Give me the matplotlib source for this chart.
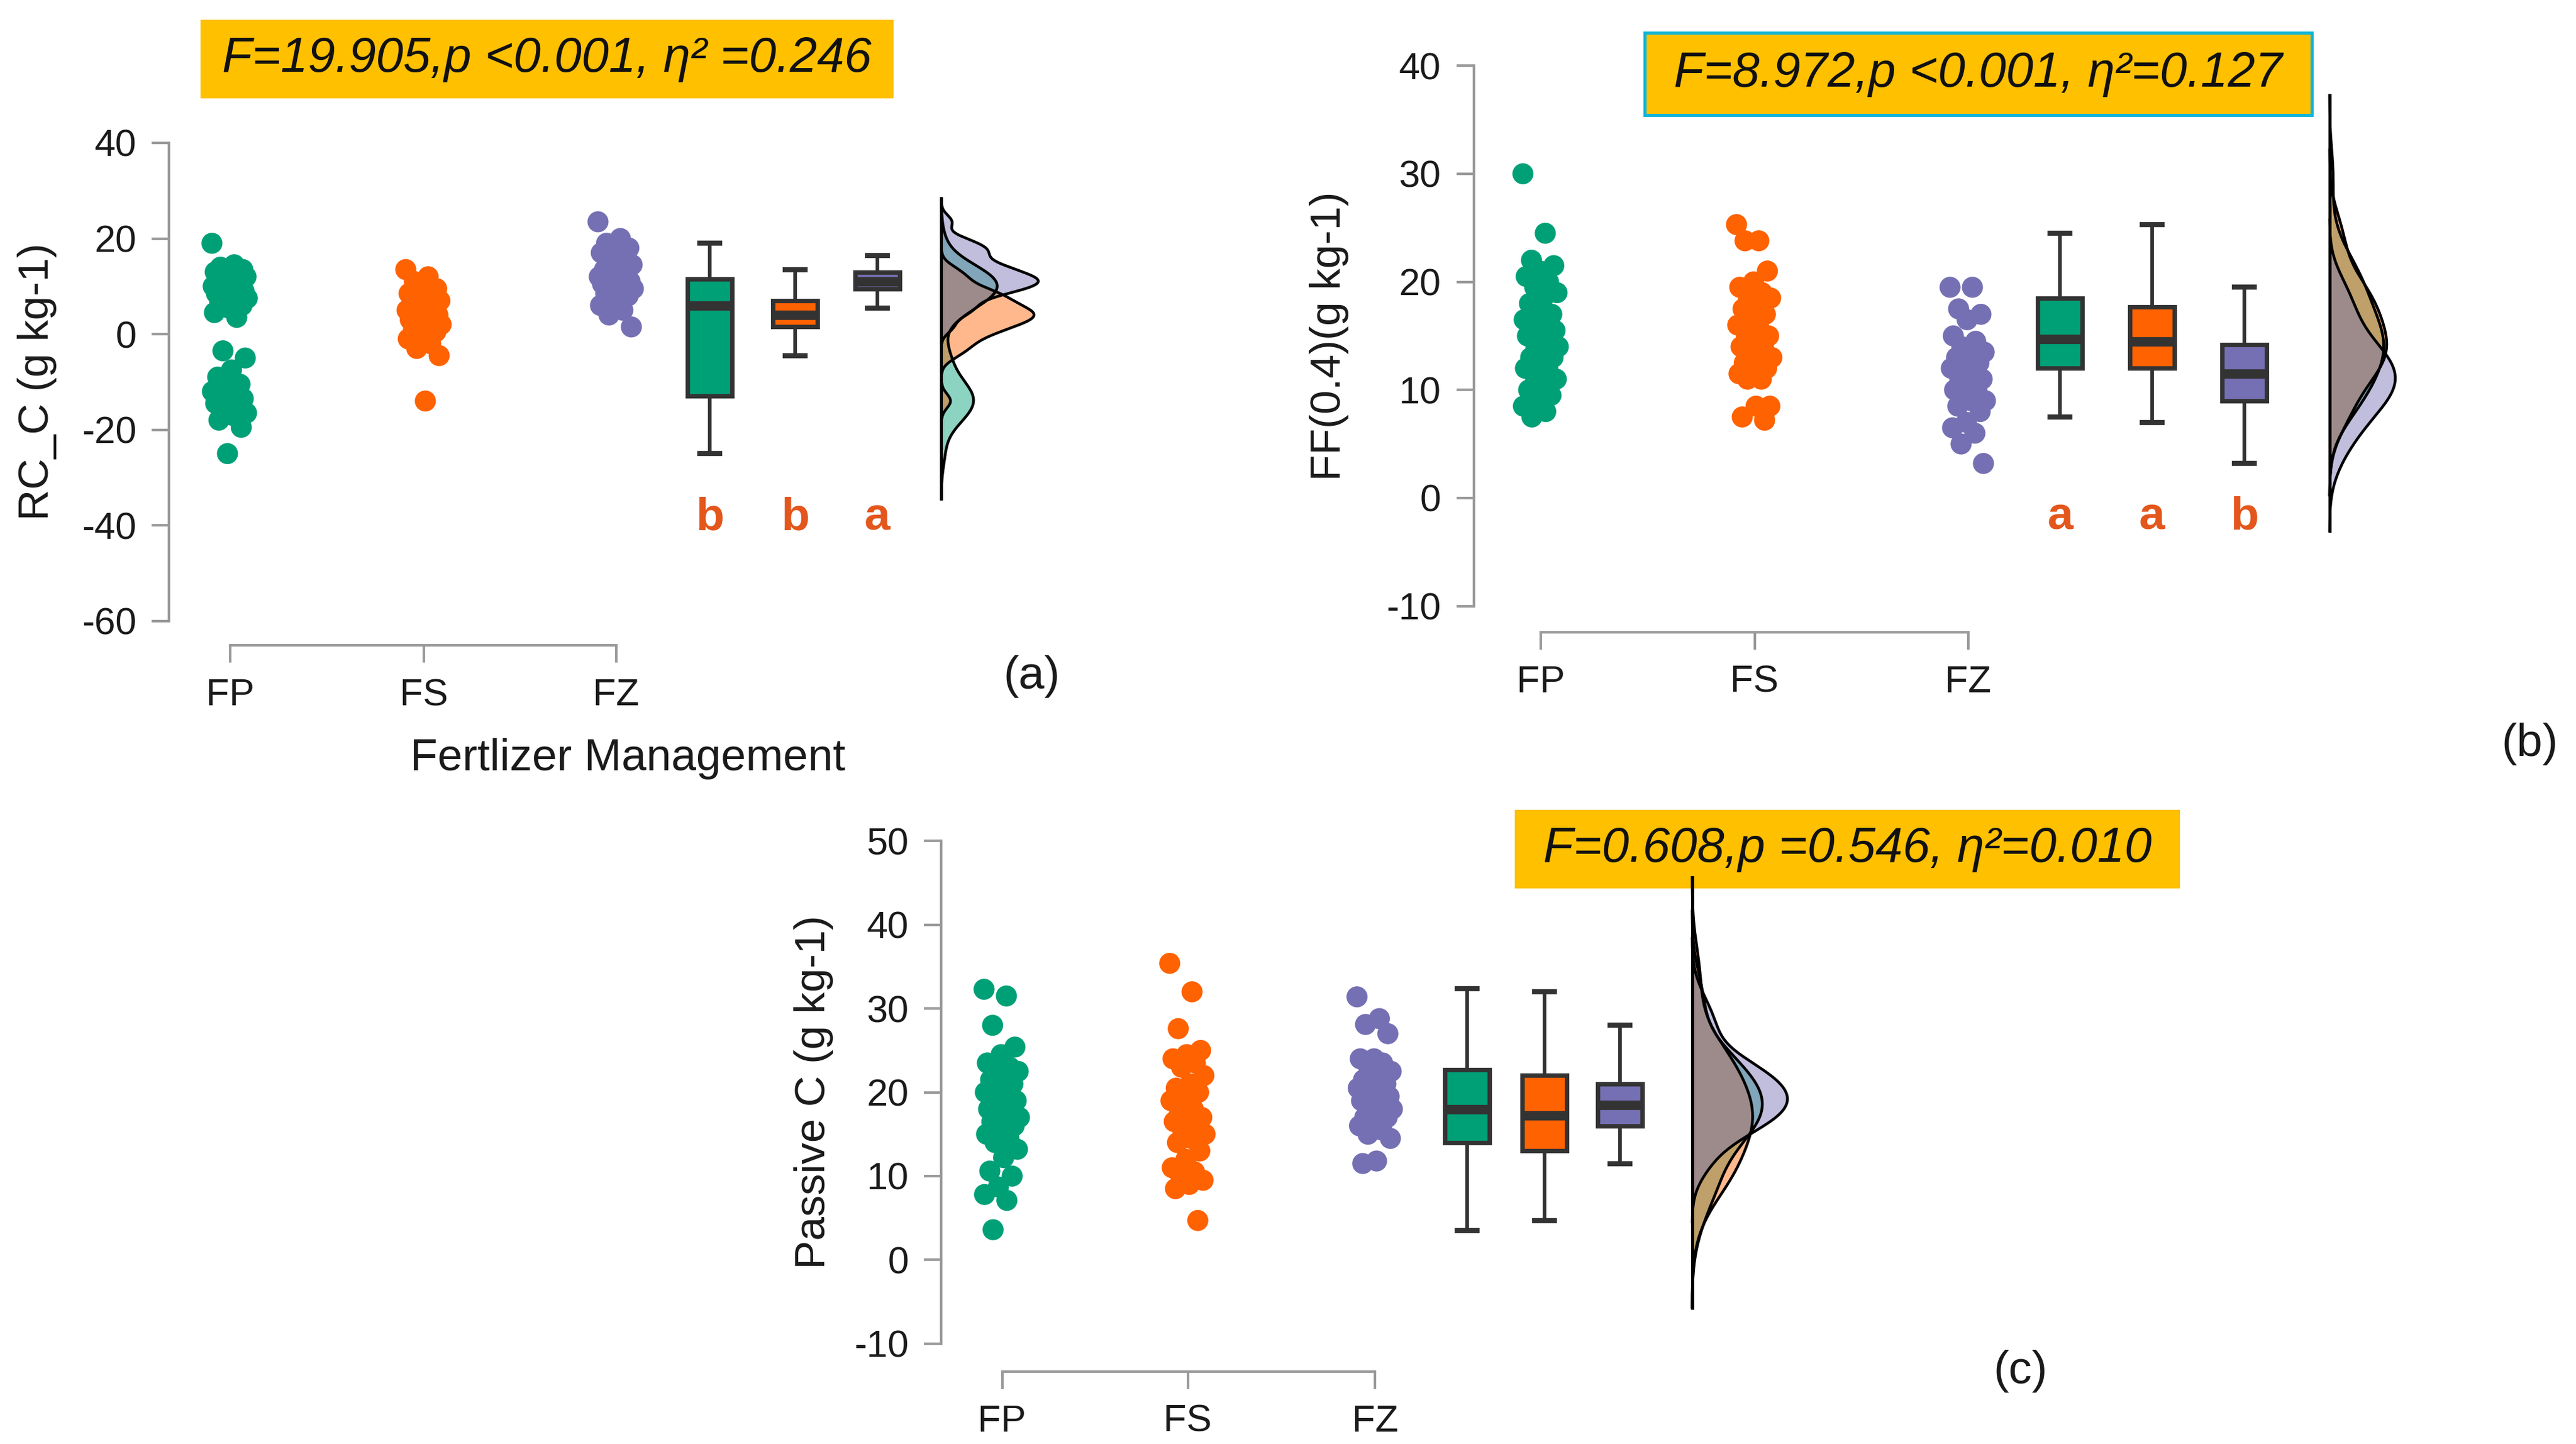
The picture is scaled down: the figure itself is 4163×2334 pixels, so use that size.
"""Raincloud-style panels (a)-(c): jittered points, box plots and densities per fertilizer group."""
import matplotlib

matplotlib.use("Agg")
import matplotlib.pyplot as plt  # noqa: E402
import numpy as np  # noqa: E402
from matplotlib.patches import Rectangle  # noqa: E402

plt.rcParams["font.family"] = ["Liberation Sans", "DejaVu Sans"]

GROUPS = ["FP", "FS", "FZ"]
COLORS = ["#00A077", "#FF6200", "#7570B3"]
LETTER_COLOR = "#E3561C"

# ---- (a) RC_C (g kg-1)
RC_FP = [19.0, 14.5, 14, 13.5, 13, 13, 12.5, 12, 12, 11.5, 11, 11, 10.5, 10, 10, 9.5, 9, 9,
         8.5, 8.5, 8, 7.5, 7, 6.5, 6, 5.5, 4.5, 3.5, -3.5, -5, -7.5, -9, -10.5, -11.5, -12,
         -12.5, -13, -13.5, -14, -14.5, -15, -16, -16.5, -17, -18, -19.5, -25]
RC_FS = [13.5, 12, 11, 9.5, 9, 8.5, 8, 7.5, 7, 6.5, 6, 5.5, 5, 5, 4.5, 4, 4, 3.5, 3, 3, 2.5,
         2, 1.5, 1, 0.5, 0, -1, -2, -3, -4.5, -14]
RC_FZ = [23.5, 20, 19, 18, 17.5, 17, 16, 15, 14.5, 14, 13.5, 13, 12.5, 12, 12, 11.5, 11, 11,
         10.5, 10, 10, 9.5, 9, 8.5, 8, 7, 6, 5, 4, 1.5]
# whislo, q1, med, q3, whishi
RC_BOX = [[-25, -13, 6, 11.5, 19], [-4.5, 1.5, 4, 7, 13.5], [5.5, 9.5, 11, 13, 16.5]]
RC_LETTERS = ["b", "b", "a"]
RC_STATS = "F=19.905,p <0.001, η² =0.246"

# ---- (b) FF(0.4) (g kg-1)
FF_FP = [30, 24.5, 22, 21.5, 21, 20.5, 20, 19.5, 19, 18.5, 18, 17, 17, 16.5, 16, 15.5, 15.5,
         15, 15, 14.5, 14, 14, 13.5, 13, 13, 12.5, 12, 12, 11.5, 11, 10.5, 10, 9.5, 9, 8.5,
         8, 7.5]
FF_FS = [25.3, 23.8, 23.8, 21, 20, 19.5, 19, 18.5, 18.5, 18, 17.5, 17, 16.5, 16, 15.5, 15, 15,
         14.5, 14, 14, 13.5, 13, 13, 12.5, 12, 12, 11.5, 11, 11, 8.5, 8.5, 7.5, 7.2]
FF_FZ = [19.5, 19.5, 17.5, 17, 16.5, 15, 14.5, 14, 13.5, 13, 13, 12.5, 12, 12, 11.5, 11, 11,
         10.5, 10, 10, 9.5, 9, 9, 8.5, 8, 7, 6.5, 6, 5, 3.2]
FF_BOX = [[7.5, 12, 14.7, 18.5, 24.5], [7, 12, 14.5, 17.7, 25.3], [3.2, 9, 11.5, 14.2, 19.5]]
FF_LETTERS = ["a", "a", "b"]
FF_STATS = "F=8.972,p <0.001, η²=0.127"

# ---- (c) Passive C (g kg-1)
PC_FP = [32.3, 31.5, 28, 25.4, 24.5, 23.5, 23, 23, 22.5, 22, 21.5, 21, 20.5, 20, 19.5, 19, 19,
         18.5, 18, 18, 17.5, 17, 17, 16.5, 16, 15.5, 15, 14.5, 14, 13.2, 12.2, 10.6, 10, 8.7,
         7.8, 7.1, 3.6]
PC_FS = [35.4, 32, 27.6, 25, 24.5, 24, 23.5, 23, 22, 21, 20.5, 20, 19.5, 19, 18, 17.5, 17, 17,
         16.5, 16, 15.5, 15, 14.5, 14, 13, 12, 11, 10.5, 10, 9.5, 9, 8.5, 4.7]
PC_FZ = [31.4, 28.8, 28.1, 27, 24, 24, 23.5, 23, 22.5, 22, 21.5, 21, 21, 20.5, 20, 20, 19.5,
         19, 19, 18.5, 18, 18, 17.5, 17, 17, 16.5, 16, 15.5, 15, 14.5, 11.8, 11.5]
PC_BOX = [[3.5, 14, 18, 22.7, 32.4], [4.7, 13, 17.2, 22, 32], [11.5, 16, 18.5, 21, 28]]
PC_LETTERS = ["", "", ""]
PC_STATS = "F=0.608,p =0.546, η²=0.010"

# layout is expressed in reference-image units (1568 x 879)
W, H = 1568.0, 879.1
PT_PER_UNIT = 4163 / W * 72 / 200


def ref_axes(fig, x0, x1, ytop, ybot):
    return fig.add_axes([x0 / W, 1 - ybot / H, (x1 - x0) / W, (ybot - ytop) / H])


def kde(values, grid, adjust):
    values = np.asarray(values, float)
    bw = values.std(ddof=1) * len(values) ** (-0.2) * adjust
    z = (grid[:, None] - values[None, :]) / bw
    return np.exp(-0.5 * z ** 2).sum(axis=1) / (len(values) * bw * np.sqrt(2 * np.pi)), bw


def draw_panel(ax, data, box, letters, ylim, yticks, ylabel, label_x,
               dot_x, box_x, dens_x, dens_w, adjust, letter_y, gap):
    # jittered raw points
    for vals, x, c in zip(data, dot_x, COLORS):
        n = len(vals)
        offs = ((np.arange(n) * 0.6180339887) % 1.0 - 0.5) * 22
        ax.scatter(x + offs, vals, s=150, color=c, edgecolors="none", zorder=3)

    # box plots
    stats = [dict(whislo=b[0], q1=b[1], med=b[2], q3=b[3], whishi=b[4], fliers=[]) for b in box]
    bp = ax.bxp(stats, positions=box_x, widths=27, capwidths=12, patch_artist=True,
                showfliers=False, manage_ticks=False,
                boxprops=dict(edgecolor="#333333", linewidth=2.6),
                whiskerprops=dict(color="#333333", linewidth=2.1),
                capprops=dict(color="#333333", linewidth=3.0),
                medianprops=dict(color="#333333", linewidth=5.5))
    for patch, c in zip(bp["boxes"], COLORS):
        patch.set_facecolor(c)

    # densities on a shared scale
    curves = []
    for vals in data:
        _, bw = kde(vals, np.array([0.0]), adjust)
        grid = np.linspace(min(vals) - 3 * bw, max(vals) + 3 * bw, 400)
        d, _ = kde(vals, grid, adjust)
        curves.append((grid, d))
    peak = max(d.max() for _, d in curves)
    for (grid, d), c in zip(curves, COLORS):
        ax.fill_betweenx(grid, dens_x, dens_x + d / peak * dens_w, facecolor=c, alpha=0.45,
                         edgecolor="none", zorder=2)
        ax.plot(dens_x + d / peak * dens_w, grid, color="black", lw=1.6, zorder=2.5)
    ax.plot([dens_x, dens_x], [min(g.min() for g, _ in curves), max(g.max() for g, _ in curves)],
            color="black", lw=1.8, zorder=2.5)

    for x, t in zip(box_x, letters):
        ax.text(x, letter_y, t, color=LETTER_COLOR, fontsize=27, fontweight="bold",
                ha="center", va="center")

    ax.set_ylim(*ylim)
    ax.set_yticks(yticks)
    ax.set_yticklabels([str(t) for t in yticks])
    ax.set_xticks(dot_x)
    ax.set_xticklabels(GROUPS)
    for side in ("top", "right"):
        ax.spines[side].set_visible(False)
    for side in ("left", "bottom"):
        ax.spines[side].set_color("#9a9a9a")
        ax.spines[side].set_linewidth(1.5)
    ax.spines["left"].set_bounds(ylim[0], ylim[1])
    ax.spines["bottom"].set_bounds(dot_x[0], dot_x[-1])
    ax.spines["bottom"].set_position(("outward", gap * PT_PER_UNIT))
    ax.tick_params(axis="both", colors="#9a9a9a", width=1.5, length=10, labelsize=22,
                   labelcolor="#1a1a1a", pad=9)
    ax.set_ylabel(ylabel, fontsize=25, color="#1a1a1a")
    ax.yaxis.set_label_coords(label_x, 0.5)
    ax.patch.set_visible(False)


def stats_box(fig, x0, x1, y0, y1, text, edge=None):
    fig.add_artist(Rectangle((x0 / W, 1 - y1 / H), (x1 - x0) / W, (y1 - y0) / H,
                             transform=fig.transFigure, facecolor="#FFC000",
                             edgecolor=edge if edge else "none", linewidth=1.8, zorder=0))
    fig.text((x0 + x1) / 2 / W, 1 - (y0 + y1) / 2 / H, text, ha="center", va="center",
             fontsize=28.5, style="italic", color="#111111")


fig = plt.figure(figsize=(4163 / 200, 2334 / 200), dpi=200)

ax_a = ref_axes(fig, 103, 650, 87, 378)
ax_a.set_xlim(103, 650)
draw_panel(ax_a, [RC_FP, RC_FS, RC_FZ], RC_BOX, RC_LETTERS, (-60, 40), [40, 20, 0, -20, -40, -60],
           "RC_C (g kg-1)", -0.125, [140, 258, 375], [432, 484, 534], 573, 59, 0.55, -38.4, 15)

ax_b = ref_axes(fig, 897, 1480, 40, 369)
ax_b.set_xlim(897, 1480)
draw_panel(ax_b, [FF_FP, FF_FS, FF_FZ], FF_BOX, FF_LETTERS, (-10, 40), [40, 30, 20, 10, 0, -10],
           "FF(0.4)(g kg-1)", -0.13, [938, 1068, 1198], [1254, 1310, 1366], 1418, 40, 1.0, -1.8, 16)

ax_c = ref_axes(fig, 573, 1110, 512, 818)
ax_c.set_xlim(573, 1110)
draw_panel(ax_c, [PC_FP, PC_FS, PC_FZ], PC_BOX, PC_LETTERS, (-10, 50),
           [50, 40, 30, 20, 10, 0, -10], "Passive C (g kg-1)", -0.122,
           [610, 723, 837], [893, 940, 986], 1030, 58, 1.0, 0, 17)

stats_box(fig, 122, 544, 12, 60, RC_STATS)
stats_box(fig, 1001, 1407, 20, 70, FF_STATS, edge="#12B5D8")
stats_box(fig, 922, 1327, 493, 541, PC_STATS)

fig.text(382 / W, 1 - 462 / H, "Fertlizer Management", ha="center", va="center", fontsize=26,
         color="#1a1a1a")
for lab, x, y in [("(a)", 628, 412), ("(b)", 1540, 453), ("(c)", 1230, 835)]:
    fig.text(x / W, 1 - y / H, lab, ha="center", va="center", fontsize=27, color="#1a1a1a")

fig.savefig("out.png", dpi=200)
plt.close(fig)
